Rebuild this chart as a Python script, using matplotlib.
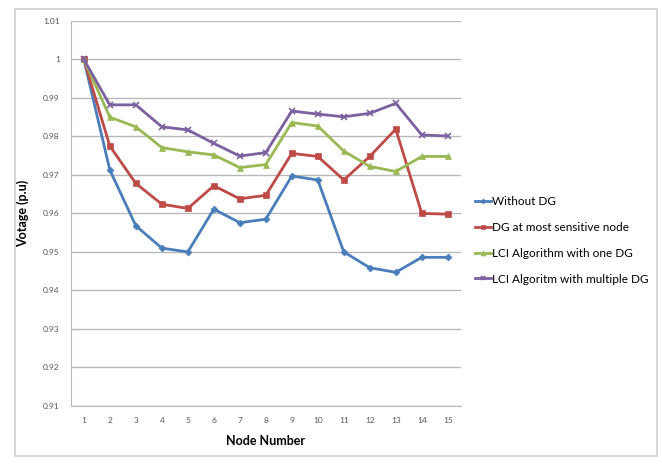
import matplotlib
matplotlib.use('Agg')
import matplotlib.pyplot as plt
from matplotlib.patches import Rectangle

# Node voltages
nodes = list(range(1, 16))
without_dg = [1.0, 0.9713, 0.9568, 0.9510, 0.9500, 0.9611, 0.9576, 0.9585,
              0.9697, 0.9687, 0.9500, 0.9459, 0.9447, 0.9486, 0.9486]
dg_sensitive = [1.0, 0.9775, 0.9678, 0.9624, 0.9613, 0.9672, 0.9638, 0.9647,
                0.9756, 0.9748, 0.9687, 0.9748, 0.9819, 0.9600, 0.9598]
lci_one = [1.0, 0.9850, 0.9825, 0.9771, 0.9760, 0.9752, 0.9719, 0.9727,
           0.9836, 0.9827, 0.9762, 0.9722, 0.9709, 0.9748, 0.9748]
lci_multi = [1.0, 0.9882, 0.9882, 0.9825, 0.9817, 0.9782, 0.9749, 0.9758,
             0.9866, 0.9858, 0.9851, 0.9860, 0.9886, 0.9804, 0.9801]
labels = ["Without DG", "DG at most sensitive node",
          "LCI Algorithm with one DG", "LCI Algoritm with multiple DG"]
yticks = [0.91, 0.92, 0.93, 0.94, 0.95, 0.96, 0.97, 0.98, 0.99, 1.0, 1.01]
ytick_labels = ["0.91", "0.92", "0.93", "0.94", "0.95", "0.96", "0.97",
                "0.98", "0.99", "1", "1.01"]

plt.rcParams['font.family'] = ['Lato', 'DejaVu Sans']

fig = plt.figure(figsize=(6.62, 4.65), dpi=100)
fig.patches.append(Rectangle((0.022, 0.02), 0.97, 0.96, transform=fig.transFigure,
                             fill=False, edgecolor="#d0d0d0", linewidth=1.2))
ax = fig.add_axes([0.107, 0.127, 0.589, 0.828])

styles = [
    ("#4a7ebb", "D", 3.5),
    ("#be4b48", "s", 5),
    ("#98b954", "^", 5),
    ("#7d60a0", "x", 5),
]
for series, label, (c, m, ms) in zip([without_dg, dg_sensitive, lci_one, lci_multi], labels, styles):
    ax.plot(nodes, series, color=c, marker=m, markersize=ms, linewidth=2,
            markeredgewidth=1.2 if m == "x" else 0.5, label=label)

ax.set_xlim(0.5, 15.5)
ax.set_ylim(0.91, 1.01)
ax.set_xticks(nodes)
ax.set_yticks(yticks)
ax.set_yticklabels(ytick_labels)
ax.tick_params(labelsize=6, colors="#555555", length=0, pad=8)
ax.yaxis.grid(True, color="#b8b8b8", linewidth=1)
ax.set_axisbelow(True)
for s in ["top", "right"]:
    ax.spines[s].set_visible(False)
for s in ["left", "bottom"]:
    ax.spines[s].set_color("#b8b8b8")

ax.set_xlabel("Node Number", fontsize=9, fontweight="bold", labelpad=8)
ax.set_ylabel("Votage (p.u)", fontsize=9, fontweight="bold", labelpad=10)

ax.legend(loc="center left", bbox_to_anchor=(1.01, 0.43), frameon=False,
          fontsize=8.5, handlelength=1.3, handletextpad=0.1, labelspacing=1.25,
          markerscale=0.7)

plt.savefig("out.png", dpi=100)
plt.close()
